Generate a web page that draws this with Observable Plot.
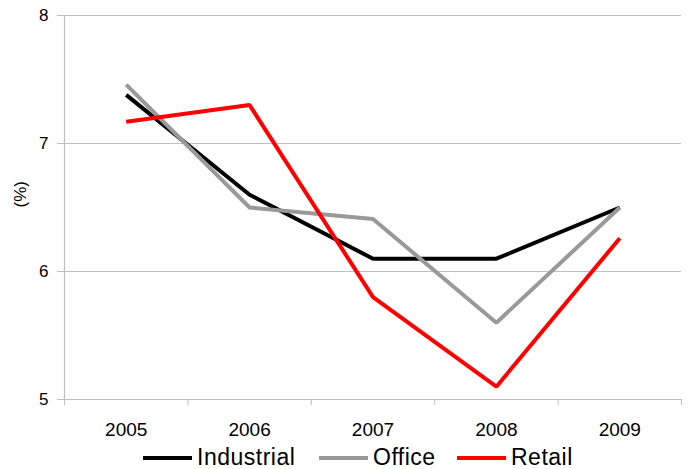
<!DOCTYPE html>
<html>
<head>
<meta charset="utf-8">
<script src="https://cdn.jsdelivr.net/npm/d3@7"></script>
<script src="https://cdn.jsdelivr.net/npm/@observablehq/plot@0.6"></script>
<style>
  html, body { margin: 0; padding: 0; background: #fff; overflow: hidden; }
  #chart { width: 691px; }
  .legend { position: relative; height: 26px; font-family: "Liberation Sans", Arial, sans-serif; font-size: 23px; letter-spacing: 0.5px; color: #000; }
  .legend .item { position: absolute; top: 2px; display: flex; align-items: center; height: 24px; line-height: 24px; white-space: nowrap; }
  .legend .sw { display: inline-block; width: 49px; height: 4px; margin-right: 5px; position: relative; top: 1px; }
</style>
</head>
<body>
<div id="chart"></div>
<script>
const years = [2005, 2006, 2007, 2008, 2009];
const industrial = [7.38, 6.6, 6.1, 6.1, 6.5];
const office = [7.46, 6.5, 6.41, 5.6, 6.5];
const retail = [7.17, 7.3, 5.8, 5.1, 6.26];
const seriesNames = ["Industrial", "Office", "Retail"];
const seriesColors = ["#000000", "#999999", "#ff0000"];
const yTicks = [5, 6, 7, 8];

const seriesValues = [industrial, office, retail];
const data = seriesNames.flatMap((name, i) =>
  years.map((yr, j) => ({series: name, year: yr, value: seriesValues[i][j]}))
);
const boundaries = [years[0] - 0.5, ...years.map(y => y + 0.5)];

const plot = Plot.plot({
  width: 691,
  height: 443,
  marginLeft: 64,
  marginRight: 10,
  marginTop: 15,
  marginBottom: 44,
  style: {fontFamily: "Liberation Sans, Arial, sans-serif", fontSize: "16px", color: "#000", background: "#fff"},
  x: {type: "linear", domain: [years[0] - 0.5, years[years.length - 1] + 0.5]},
  y: {domain: [5, 8]},
  color: {domain: seriesNames, range: seriesColors},
  marks: [
    Plot.ruleY(yTicks, {stroke: "#bfbfbf", strokeWidth: 1.2}),
    Plot.ruleX([boundaries[0]], {stroke: "#bfbfbf", strokeWidth: 1.2}),
    Plot.axisY(yTicks, {tickSize: 7, tickPadding: 9, stroke: "#bfbfbf", label: null, tickFormat: d3.format("d"), fill: "#000", fontSize: 17}),
    Plot.axisX(boundaries, {tickSize: 6, stroke: "#bfbfbf", text: null, label: null}),
    Plot.axisX(years, {tickSize: 0, tickPadding: 23, label: null, tickFormat: d3.format("d"), fill: "#000", fontSize: 19}),
    Plot.text(["(%)"], {frameAnchor: "left", dx: -44, rotate: -90, fontSize: 17, fill: "#000"}),
    Plot.line(data, {x: "year", y: "value", z: "series", stroke: "series", strokeWidth: 4, strokeLinejoin: "miter", strokeLinecap: "butt"})
  ]
});
document.getElementById("chart").appendChild(plot);

const legend = document.createElement("div");
legend.className = "legend";
const lefts = [143, 319, 457];
seriesNames.forEach((name, i) => {
  const item = document.createElement("div");
  item.className = "item";
  item.style.left = lefts[i] + "px";
  const sw = document.createElement("span");
  sw.className = "sw";
  sw.style.background = seriesColors[i];
  const t = document.createElement("span");
  t.textContent = name;
  item.appendChild(sw);
  item.appendChild(t);
  legend.appendChild(item);
});
document.getElementById("chart").appendChild(legend);
</script>
</body>
</html>
